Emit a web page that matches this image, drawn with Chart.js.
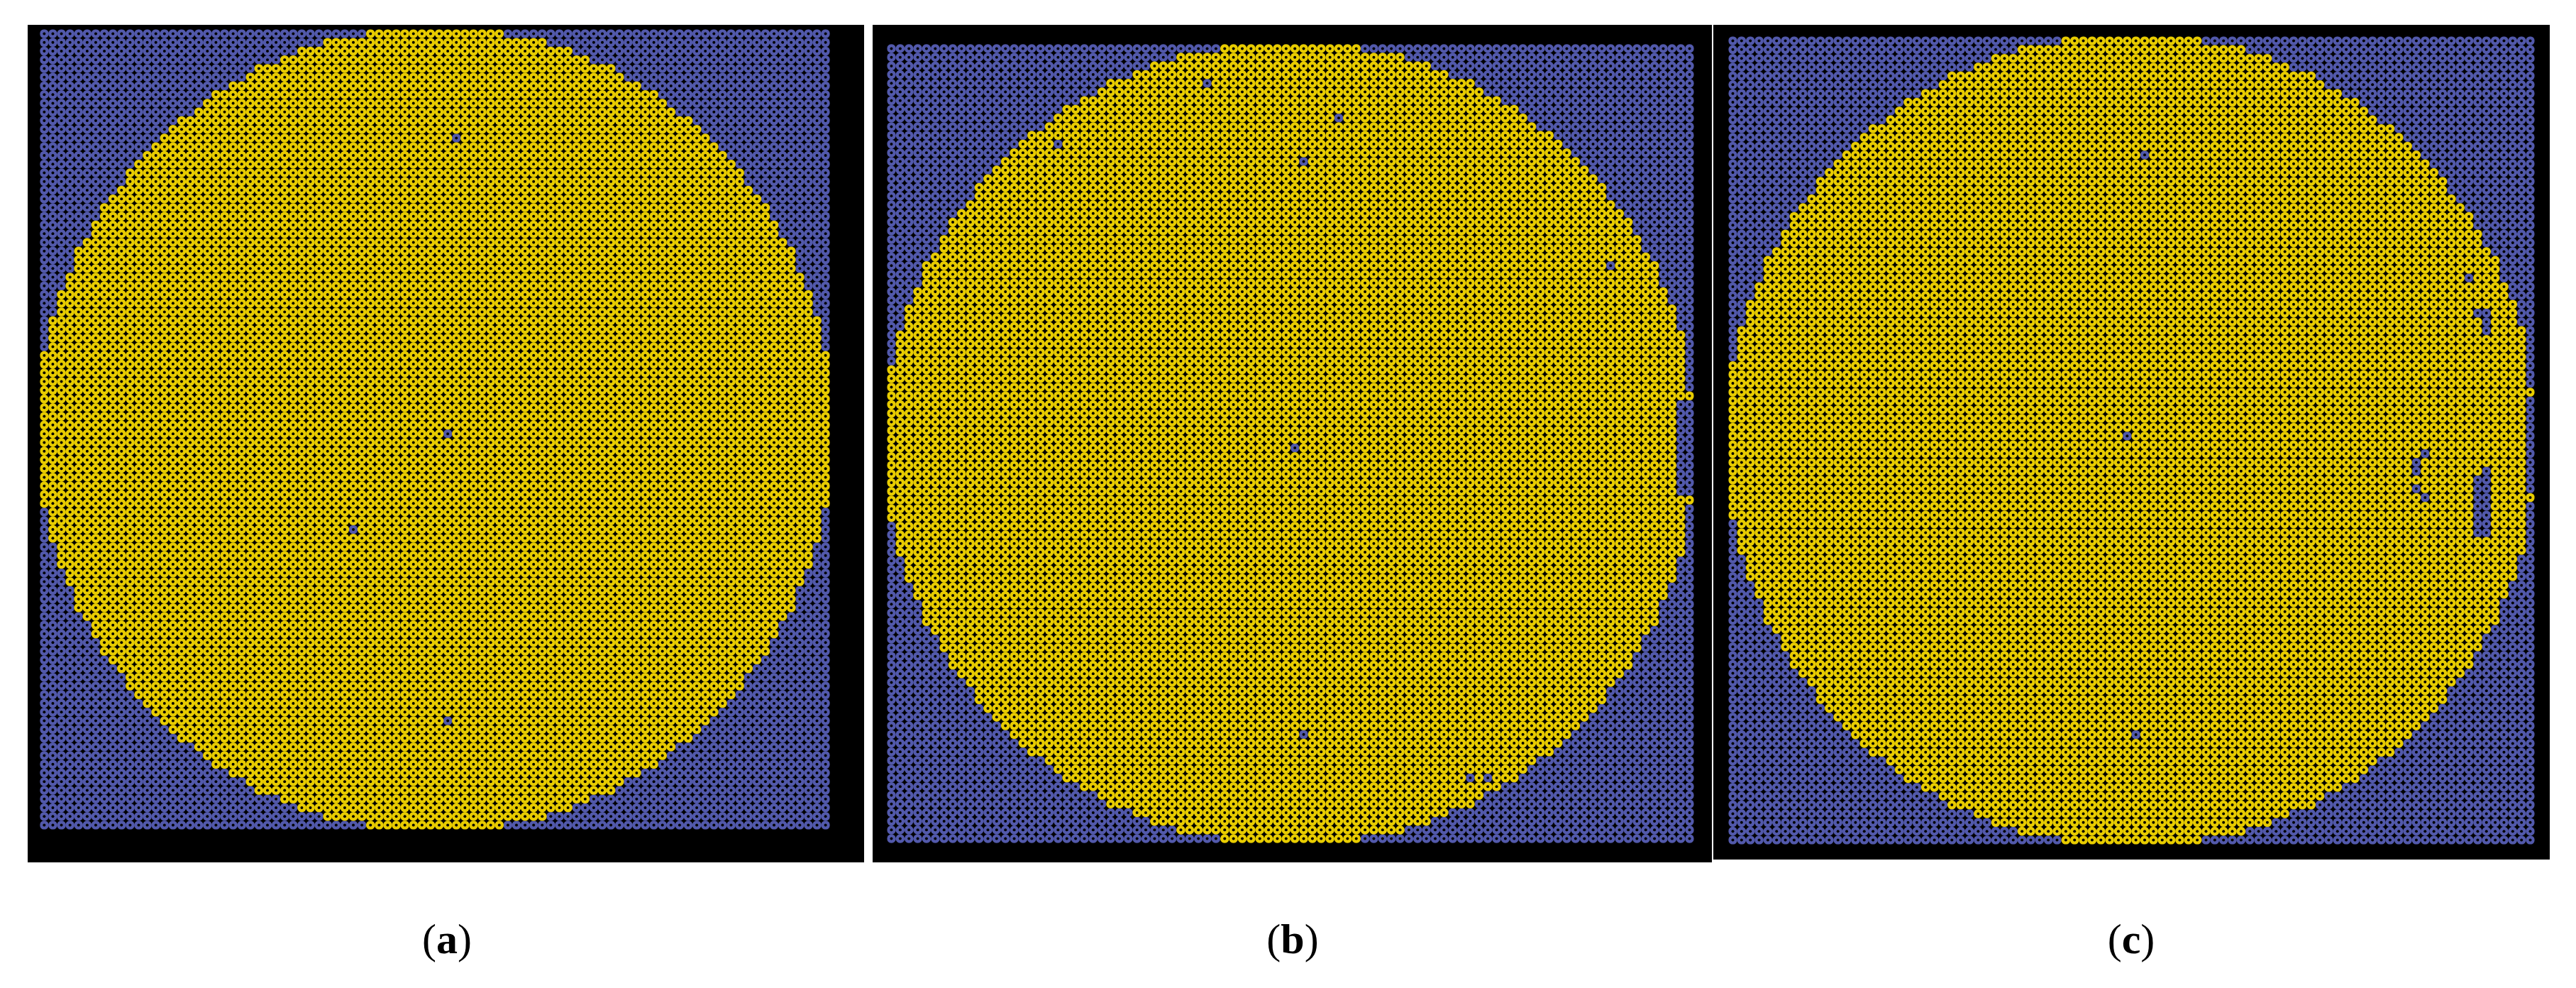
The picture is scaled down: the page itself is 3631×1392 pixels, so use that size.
<!DOCTYPE html>
<html>
<head>
<meta charset="utf-8">
<title>Wafer maps</title>
<script src="https://cdn.jsdelivr.net/npm/chart.js@4.4.1/dist/chart.umd.min.js"></script>
<style>
    body { margin: 0; background: #fff; width: 3631px; height: 1392px; position: relative; overflow: hidden; }
    .frame { position: absolute; background: #000; }
    .frame canvas { position: absolute; }
    .label { position: absolute; width: 300px; text-align: center; font-family: "Liberation Serif", "DejaVu Serif", serif; font-size: 60px; line-height: 60px; color: #000; }
</style>
</head>
<body>
<script>
// Global Variables
const GRID_SIZE = 92;

// First and last good die of every wafer row (row 0 = top)
const rowStart = [38, 33, 30, 28, 25, 24, 22, 20, 19, 18, 16, 15, 14, 13, 12, 11, 10, 10, 9, 8,
    7, 7, 6, 6, 5, 4, 4, 4, 3, 3, 2, 2, 2, 1, 1, 1, 1, 0, 0, 0,
    0, 0, 0, 0, 0, 0, 0, 0, 0, 0, 0, 0, 0, 0, 0, 1, 1, 1, 1, 2,
    2, 2, 3, 3, 4, 4, 4, 5, 6, 6, 7, 7, 8, 9, 10, 10, 11, 12, 13, 14,
    15, 16, 18, 19, 20, 22, 24, 25, 28, 30, 33, 38];
const rowEnd = [53, 58, 61, 63, 66, 67, 69, 71, 72, 73, 75, 76, 77, 78, 79, 80, 81, 81, 82, 83,
    84, 84, 85, 85, 86, 87, 87, 87, 88, 88, 89, 89, 89, 90, 90, 90, 90, 91, 91, 91,
    91, 91, 91, 91, 91, 91, 91, 91, 91, 91, 91, 91, 91, 91, 91, 90, 90, 90, 90, 89,
    89, 89, 88, 88, 87, 87, 87, 86, 85, 85, 84, 84, 83, 82, 81, 81, 80, 79, 78, 77,
    76, 75, 73, 72, 71, 69, 67, 66, 63, 61, 58, 53];

// Failed dies [column, row] per wafer
const defectsA = [[48, 12], [47, 46], [36, 57], [47, 79]];
const defectsB = [[36, 4], [51, 8], [19, 11], [47, 13], [82, 25], [46, 46], [47, 79], [66, 84], [68, 84],
    [91, 37], [91, 38], [91, 39], [91, 41], [91, 42], [91, 43], [91, 44], [91, 45], [91, 46],
    [91, 47], [91, 48], [91, 49], [91, 50], [91, 51], [91, 53], [91, 54],
    [90, 41], [90, 42], [90, 43], [90, 44], [90, 45], [90, 46], [90, 47], [90, 48], [90, 49],
    [90, 50], [90, 51]];
const defectsC = [[47, 13], [45, 45], [46, 79], [84, 27], [85, 31], [86, 31], [86, 32], [86, 33],
    [79, 47], [78, 48], [78, 49], [78, 51], [79, 52],
    [86, 49], [86, 50], [86, 51], [86, 52], [86, 53], [86, 54], [86, 55], [86, 56],
    [85, 50], [85, 51], [85, 52], [85, 53], [85, 54], [85, 55], [85, 56],
    [91, 37], [91, 38], [91, 39], [91, 41], [91, 42], [91, 43], [91, 44], [91, 45], [91, 46],
    [91, 47], [91, 48], [91, 49], [91, 50], [91, 51], [91, 53], [91, 54]];

const panelLetters = ['a', 'b', 'c'];
const panelDefects = [defectsA, defectsB, defectsC];

// Page layout: black frame and die area of each panel, plus label centre
const panelLayout = [
    { frame: [39, 35, 1179, 1180], plot: [50, 35, 1126, 1140], labelX: 630 },
    { frame: [1230, 35, 1183, 1180], plot: [1244, 56, 1150, 1138], labelX: 1822 },
    { frame: [2415, 35, 1179, 1176], plot: [2430, 45, 1149, 1151], labelX: 3004 }
];
const LABEL_TOP = 1293;

const GOOD_COLOR = '#e8cc00';
const FAIL_COLOR = '#5259ab';

// Split the die grid into good and failed points
function buildDies(defects) {
    const failed = new Set(defects.map(d => d[0] + ',' + d[1]));
    const good = [];
    const bad = [];
    const centers = [];
    for (let row = 0; row < GRID_SIZE; row++) {
        for (let col = 0; col < GRID_SIZE; col++) {
            const point = { x: col, y: row };
            const inside = col >= rowStart[row] && col <= rowEnd[row];
            if (inside && !failed.has(col + ',' + row)) {
                good.push(point);
            } else {
                bad.push(point);
            }
            centers.push(point);
        }
    }
    return { good, bad, centers };
}

// Render one wafer map
function renderWafer(index) {
    const box = panelLayout[index];
    const frame = document.createElement('div');
    frame.className = 'frame';
    frame.style.left = box.frame[0] + 'px';
    frame.style.top = box.frame[1] + 'px';
    frame.style.width = box.frame[2] + 'px';
    frame.style.height = box.frame[3] + 'px';
    document.body.appendChild(frame);

    const canvas = document.createElement('canvas');
    canvas.width = box.plot[2];
    canvas.height = box.plot[3];
    canvas.style.left = (box.plot[0] - box.frame[0]) + 'px';
    canvas.style.top = (box.plot[1] - box.frame[1]) + 'px';
    canvas.style.width = box.plot[2] + 'px';
    canvas.style.height = box.plot[3] + 'px';
    frame.appendChild(canvas);

    const dies = buildDies(panelDefects[index]);
    const radius = 6.3;

    new Chart(canvas.getContext('2d'), {
        type: 'scatter',
        data: {
            datasets: [
                { data: dies.centers, pointRadius: 2.0, backgroundColor: '#000', borderWidth: 0, order: 0 },
                { data: dies.good, pointRadius: radius, backgroundColor: GOOD_COLOR, borderWidth: 0, order: 1 },
                { data: dies.bad, pointRadius: radius, backgroundColor: FAIL_COLOR, borderWidth: 0, order: 1 }
            ]
        },
        options: {
            responsive: false,
            animation: false,
            devicePixelRatio: 1,
            parsing: false,
            normalized: true,
            events: [],
            layout: { padding: 0 },
            scales: {
                x: { type: 'linear', min: -0.5, max: GRID_SIZE - 0.5, display: false },
                y: { type: 'linear', min: -0.5, max: GRID_SIZE - 0.5, reverse: true, display: false }
            },
            plugins: {
                legend: { display: false },
                tooltip: { enabled: false }
            }
        }
    });

    const label = document.createElement('div');
    label.className = 'label';
    label.style.left = (box.labelX - 150) + 'px';
    label.style.top = LABEL_TOP + 'px';
    label.innerHTML = '(<b>' + panelLetters[index] + '</b>)';
    document.body.appendChild(label);
}

// Initialize page
function initPage() {
    panelLetters.forEach((letter, i) => renderWafer(i));
}
initPage();
</script>
</body>
</html>
